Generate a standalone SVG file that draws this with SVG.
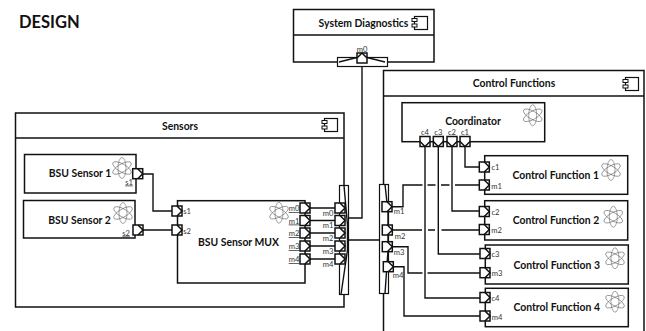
<svg xmlns="http://www.w3.org/2000/svg" width="646" height="331" viewBox="0 0 646 331">
<style>
text{font-family:"Lato","Carlito","Open Sans",sans-serif;fill:#111}
.t{font-weight:700;font-size:10.4px;text-anchor:middle;dominant-baseline:central}
.h{font-weight:700;font-size:16.5px}
.p{font-size:7.6px;fill:#333;text-anchor:middle;dominant-baseline:central}
.u{text-decoration:underline}
.b{fill:#fff;stroke:#111;stroke-width:1.5}
.c{fill:none;stroke:#111;stroke-width:1.4}
.a{fill:none;stroke:#666;stroke-width:.6}
.bar{fill:#fff;stroke:#111;stroke-width:1.2}
</style>
<defs>
<g id="port"><rect x="-5" y="-5" width="10" height="10" fill="#fff" stroke="#111" stroke-width="1.5"/><path d="M0-5 5 0 0 5" fill="none" stroke="#111" stroke-width="1.5"/></g>
<g id="pd"><rect x="-5" y="-5" width="10" height="10" fill="#fff" stroke="#111" stroke-width="1.5"/><path d="M-5 0 0 5 5 0" fill="none" stroke="#111" stroke-width="1.5"/></g>
<g id="pu"><rect x="-5" y="-5" width="10" height="10" fill="#fff" stroke="#111" stroke-width="1.5"/><path d="M-5 0 0-5 5 0" fill="none" stroke="#111" stroke-width="1.5"/></g>
<g id="atom" class="a"><ellipse rx="10.5" ry="4" transform="rotate(30)"/><ellipse rx="10.5" ry="4" transform="rotate(-30)"/><ellipse rx="10.500" ry="4" transform="rotate(90)"/></g>
<g id="icon"><rect x="2.500" y=".5" width="13" height="13" fill="#fff" stroke="#111" stroke-width="1.2"/><rect x="0" y="2.500" width="5" height="3" fill="#fff" stroke="#111"/><rect x="0" y="8" width="5" height="3" fill="#fff" stroke="#111"/></g>
</defs>
<text class="h" x="19" y="28">DESIGN</text>

<g id="system-diagnostics">
<rect class="b" x="293.500" y="9.500" width="140.500" height="52.500"/><path class="c" d="M293.500 35H434"/>
<text class="t" x="363.500" y="22.500">System Diagnostics</text>
<use href="#icon" x="412" y="16"/>
</g>

<g id="sensors">
<rect class="b" x="15.500" y="113" width="328.500" height="194"/><path class="c" d="M15.500 138H344"/>
<text class="t" x="180" y="125.500">Sensors</text>
<use href="#icon" x="322" y="118"/>
</g>

<g id="control-functions">
<path class="b" d="M383.500 331V70.500H644V331"/><path class="c" d="M383.500 96H644"/>
<text class="t" x="514" y="83">Control Functions</text>
<use href="#icon" x="623" y="77"/>
</g>

<g id="bsu-sensor-1">
<rect class="b" x="24.500" y="154.500" width="111.500" height="38.500"/>
<text class="t" x="80" y="173">BSU Sensor 1</text>
<use href="#atom" x="122" y="168"/>
<text class="p u" x="129" y="181.500">s1</text>
</g>
<g id="bsu-sensor-2">
<rect class="b" x="23.500" y="200.500" width="111.500" height="37.500"/>
<text class="t" x="79.500" y="220">BSU Sensor 2</text>
<use href="#atom" x="123" y="213"/>
<text class="p u" x="126" y="232.500">s2</text>
</g>
<g id="bsu-sensor-mux">
<rect class="b" x="177.500" y="200.700" width="127.500" height="82.300"/>
<text class="t" x="238.500" y="242.300">BSU Sensor MUX</text>
<use href="#atom" x="279" y="212.700"/>
<text class="p u" x="294" y="208">m0</text><text class="p u" x="294" y="220.500">m1</text><text class="p u" x="294" y="233">m2</text><text class="p u" x="294" y="246">m3</text><text class="p u" x="294" y="259">m4</text>
</g>
<g id="coordinator">
<rect class="b" x="402" y="102.700" width="142.700" height="39"/>
<text class="t" x="473" y="120.800">Coordinator</text>
<use href="#atom" x="532.700" y="115.300"/>
<text class="p u" x="425" y="132.300">c4</text><text class="p u" x="438.300" y="132.300">c3</text><text class="p u" x="452" y="132.300">c2</text><text class="p u" x="465" y="132.300">c1</text>
</g>
<g id="control-function-1">
<rect class="b" x="484.700" y="155.700" width="143" height="38.600"/>
<text class="t" x="555.700" y="175.300">Control Function 1</text><use href="#atom" x="611" y="170"/>
<text class="p" x="495.500" y="167">c1</text><text class="p" x="496.500" y="185.500">m1</text>
</g>
<g id="control-function-2">
<rect class="b" x="484.700" y="200.700" width="143" height="39.300"/>
<text class="t" x="556" y="220.300">Control Function 2</text><use href="#atom" x="613.300" y="216.700"/>
<text class="p" x="495.500" y="212">c2</text><text class="p" x="496.500" y="229.500">m2</text>
</g>
<g id="control-function-3">
<rect class="b" x="485.300" y="245" width="143" height="39"/>
<text class="t" x="556.700" y="264.700">Control Function 3</text><use href="#atom" x="615" y="258.300"/>
<text class="p" x="495.500" y="254">c3</text><text class="p" x="497" y="273">m3</text>
</g>
<g id="control-function-4">
<rect class="b" x="485.300" y="288.300" width="143" height="38.400"/>
<text class="t" x="556.700" y="307.300">Control Function 4</text><use href="#atom" x="615" y="301.700"/>
<text class="p" x="495.500" y="297.500">c4</text><text class="p" x="497" y="316.500">m4</text>
</g>

<g id="connectors">
<path class="c" d="M143 174H153V211H172M143 230H172"/>
<path class="c" d="M310 208H335M310 220.500H335M310 233H335M310 246H335M310 259H335"/>
<path class="c" d="M362 63V218H349M349 240H379"/>
<path class="c" d="M465 146V167H480M452 146V211H480M438.300 146V254H480M425 146V298H480"/>
<path class="c" d="M392 206.700H403V185H422.500M427.500 185H435.500M441 185H449.500M455 185H480"/>
<path class="c" d="M392 230H422M428 230H435M441.500 230H480"/>
<path class="c" d="M392 246.700H408V273H422.500M427.500 273H480"/>
<path class="c" d="M393 266.700H404V316H480"/>
</g>

<g id="delegate-diagnostics">
<rect class="bar" x="337.500" y="57.500" width="50" height="9"/>
<path class="c" d="M339 62 357 57.500H367L385 62"/>
<use href="#pu" x="362" y="58"/>
<text class="p" x="362" y="48.500">m0</text>
</g>
<g id="delegate-sensors">
<rect class="bar" x="339.500" y="185.500" width="9" height="109"/>
<path class="c" d="M344 185.500 347.500 225V250L341 294.500"/>
<use href="#port" x="340" y="208"/><use href="#port" x="340" y="220.500"/><use href="#port" x="340" y="233"/><use href="#port" x="340" y="246"/><use href="#port" x="340" y="259"/>
<text class="p" x="328" y="212.500">m0</text><text class="p" x="328" y="225">m1</text><text class="p" x="328" y="238">m2</text><text class="p" x="328" y="250.500">m3</text><text class="p" x="328" y="263.500">m4</text>
</g>
<g id="delegate-control">
<rect class="bar" x="379.500" y="184.500" width="9" height="109"/>
<path class="c" d="M385 184.500 388 212V250L385 293.500"/>
<use href="#port" x="387" y="206.700"/><use href="#port" x="387.300" y="230"/><use href="#port" x="387.300" y="246.700"/><use href="#port" x="388.300" y="266.700"/>
<text class="p" x="399" y="211">m1</text><text class="p" x="400" y="235.500">m2</text><text class="p" x="399" y="252">m3</text><text class="p" x="398" y="274.500">m4</text>
</g>
<g id="ports">
<use href="#port" x="137.700" y="173.700"/><use href="#port" x="138" y="230"/>
<use href="#port" x="177" y="211"/><use href="#port" x="177" y="230"/>
<text class="p" x="187" y="211">s1</text><text class="p" x="187" y="231">s2</text>
<use href="#port" x="305" y="208"/><use href="#port" x="305" y="220.500"/><use href="#port" x="305" y="233"/><use href="#port" x="305" y="246"/><use href="#port" x="305" y="259"/>
<use href="#pd" x="425" y="141.500"/><use href="#pd" x="438.300" y="141.500"/><use href="#pd" x="452" y="141.500"/><use href="#pd" x="465" y="141.500"/>
<use href="#port" x="484.300" y="167"/><use href="#port" x="484.300" y="185"/><use href="#port" x="484.300" y="211.500"/><use href="#port" x="484.300" y="229.500"/><use href="#port" x="485" y="253.500"/><use href="#port" x="485" y="272.700"/><use href="#port" x="485" y="297.500"/><use href="#port" x="485" y="316"/>
</g>
</svg>
